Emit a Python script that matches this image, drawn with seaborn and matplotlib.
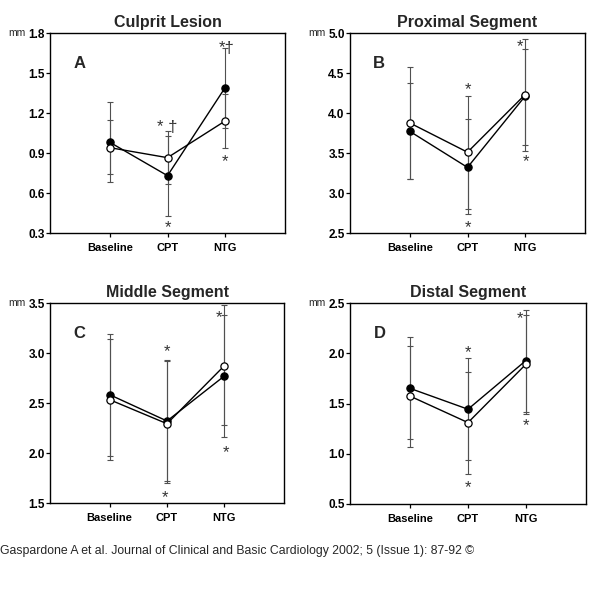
import numpy as np
import pandas as pd
import matplotlib
matplotlib.use("Agg")
import matplotlib.pyplot as plt
import seaborn as sns

sns.set_style("ticks")
plt.rcParams['font.family'] = ['Liberation Sans', 'DejaVu Sans']

# ---------------- data ----------------
categories = ["Baseline", "CPT", "NTG"]
titles = ["Culprit Lesion", "Proximal Segment", "Middle Segment", "Distal Segment"]
letters = ["A", "B", "C", "D"]

# panel A
a_filled = [0.98, 0.73, 1.39]
a_filled_hi = [1.285, 1.03, 1.69]
a_filled_lo = [0.68, 0.43, 1.085]
a_open = [0.94, 0.865, 1.14]
a_open_hi = [1.145, 1.065, 1.34]
a_open_lo = [0.74, 0.67, 0.94]
a_yticks = [0.3, 0.6, 0.9, 1.2, 1.5, 1.8]

# panel B
b_filled = [3.77, 3.32, 4.21]
b_filled_hi = [4.575, 3.925, 4.93]
b_filled_lo = [3.17, 2.74, 3.525]
b_open = [3.875, 3.51, 4.23]
b_open_hi = [4.375, 4.21, 4.80]
b_open_lo = [3.18, 2.80, 3.60]
b_yticks = [2.5, 3.0, 3.5, 4.0, 4.5, 5.0]

# panel C
c_filled = [2.583, 2.32, 2.77]
c_filled_hi = [3.19, 2.93, 3.48]
c_filled_lo = [1.967, 1.717, 2.16]
c_open = [2.533, 2.293, 2.873]
c_open_hi = [3.14, 2.92, 3.38]
c_open_lo = [1.927, 1.70, 2.277]
c_yticks = [1.5, 2.0, 2.5, 3.0, 3.5]

# panel D
d_filled = [1.65, 1.443, 1.927]
d_filled_hi = [2.157, 1.95, 2.427]
d_filled_lo = [1.143, 0.933, 1.417]
d_open = [1.573, 1.31, 1.89]
d_open_hi = [2.073, 1.817, 2.383]
d_open_lo = [1.067, 0.80, 1.393]
d_yticks = [0.5, 1.0, 1.5, 2.0, 2.5]

# significance marks: (category index, x shift, y, text)
a_marks = [(1, 0.0, 1.13, "* \u2020"), (1, 0.0, 0.375, "*"), (2, 0.03, 1.72, "*\u2020"), (2, 0.0, 0.87, "*")]
b_marks = [(1, 0.0, 4.35, "*"), (1, 0.0, 2.625, "*"), (2, -0.09, 4.89, "*"), (2, 0.02, 3.45, "*")]
c_marks = [(1, 0.0, 3.06, "*"), (1, -0.03, 1.607, "*"), (2, -0.1, 3.40, "*"), (2, 0.02, 2.057, "*")]
d_marks = [(1, 0.0, 2.06, "*"), (1, 0.0, 0.71, "*"), (2, -0.1, 2.40, "*"), (2, 0.0, 1.327, "*")]

panels = [
    (a_filled, a_filled_lo, a_filled_hi, a_open, a_open_lo, a_open_hi, a_yticks, a_marks),
    (b_filled, b_filled_lo, b_filled_hi, b_open, b_open_lo, b_open_hi, b_yticks, b_marks),
    (c_filled, c_filled_lo, c_filled_hi, c_open, c_open_lo, c_open_hi, c_yticks, c_marks),
    (d_filled, d_filled_lo, d_filled_hi, d_open, d_open_lo, d_open_hi, d_yticks, d_marks),
]

# ---------------- layout ----------------
W, H = 600, 601
fig = plt.figure(figsize=(W / 100, H / 100), dpi=100)
boxes = [(50, 33, 235, 200), (350, 33, 235, 200), (50, 303, 234, 200), (350, 303, 236, 201)]

pos = np.arange(len(categories))

for i, (box, pdata) in enumerate(zip(boxes, panels)):
    fl, flo, fhi, op, olo, ohi, yt, marks = pdata
    x0, y0, w, h = box
    ax = fig.add_axes([x0 / W, 1 - (y0 + h) / H, w / W, h / H])

    # error bars
    for m, lo, hi in ((fl, flo, fhi), (op, olo, ohi)):
        m = np.array(m); lo = np.array(lo); hi = np.array(hi)
        ax.errorbar(pos, m, yerr=[m - lo, hi - m], fmt="none", ecolor="#505050",
                    elinewidth=0.8, capsize=2.2, capthick=0.8, zorder=1)

    df_f = pd.DataFrame({"pos": pos, "value": fl})
    df_o = pd.DataFrame({"pos": pos, "value": op})
    sns.lineplot(data=df_f, x="pos", y="value", ax=ax, color="black", lw=1.0,
                 marker="o", markersize=5.2, markerfacecolor="black",
                 markeredgecolor="black", markeredgewidth=0.9, errorbar=None, zorder=3)
    sns.lineplot(data=df_o, x="pos", y="value", ax=ax, color="black", lw=1.0,
                 marker="o", markersize=5.2, markerfacecolor="white",
                 markeredgecolor="black", markeredgewidth=0.9, errorbar=None, zorder=4)

    for ci, dx, yv, txt in marks:
        ax.annotate(txt, xy=(pos[ci] + dx, yv), xytext=(0, -6.9), textcoords="offset points",
                    ha="center", va="baseline", fontsize=12, color="#333333", zorder=5)

    ax.set_xlim(-1.04, 3.04)
    ax.set_ylim(yt[0], yt[-1])
    ax.set_xticks(pos)
    ax.set_xticklabels(categories, fontsize=8, fontweight="bold")
    ax.set_yticks(yt)
    ax.set_yticklabels([f"{v:.1f}" for v in yt], fontsize=8.5, fontweight="bold")
    ax.set_xlabel("")
    ax.set_ylabel("")
    ax.tick_params(axis="y", length=3, width=0.9, pad=0.8, colors="black")
    ax.tick_params(axis="x", length=3, width=0.9, pad=4, colors="black")
    for sp in ax.spines.values():
        sp.set_visible(True)
        sp.set_linewidth(1.0)
        sp.set_color("black")
    ax.set_title(titles[i], fontsize=11.5, fontweight="bold", pad=4)
    ax.text(0.125, 0.85, letters[i], transform=ax.transAxes, fontsize=12,
            fontweight="bold", ha="center", va="center")
    ax.annotate("mm", xy=(0, 1), xycoords="axes fraction", xytext=(-17.5, 0),
                textcoords="offset points", ha="right", va="center", fontsize=7.5)

fig.text(0.0, 1 - 551 / H,
         "Gaspardone A et al. Journal of Clinical and Basic Cardiology 2002; 5 (Issue 1): 87-92 \u00a9",
         fontsize=8.8, ha="left", va="center",
         family=["Liberation Sans", "DejaVu Sans"])

fig.savefig("out.png", dpi=100)
